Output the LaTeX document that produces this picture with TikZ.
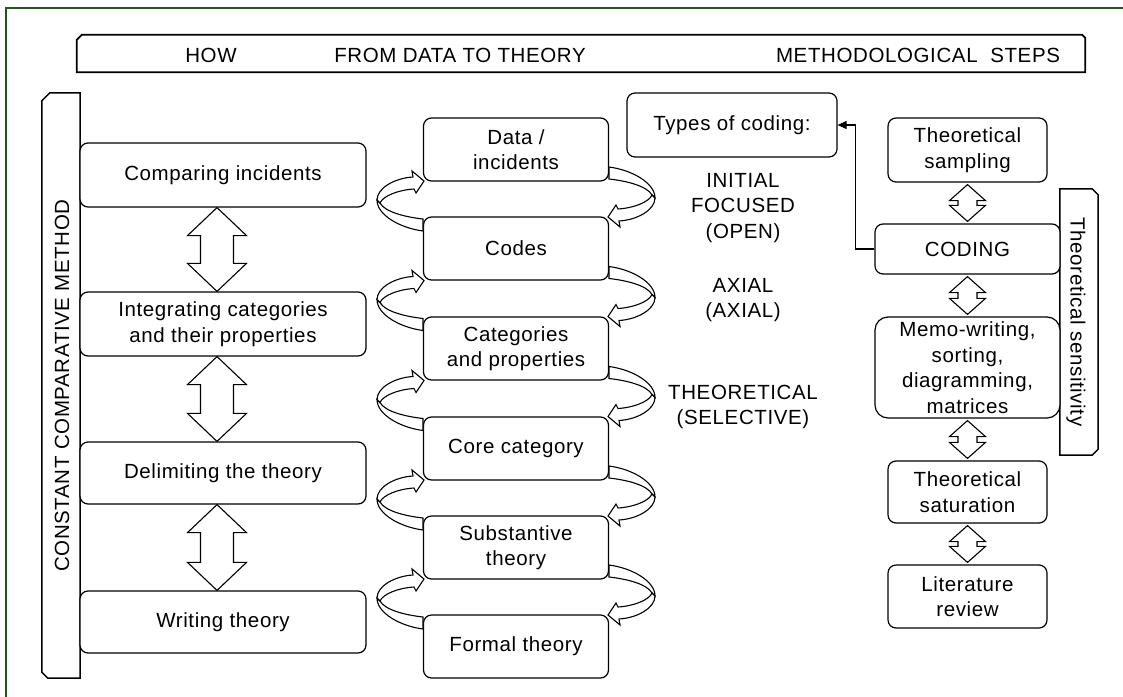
\documentclass[tikz,border=0pt]{standalone}
\usepackage{fontspec}
\setmainfont{Liberation Sans}[LetterSpace=3]
\usetikzlibrary{calc,arrows.meta}
\definecolor{framegreen}{RGB}{34,85,34}

% vertical block double arrow between two stacked nodes
% #1 upper node, #2 lower node, #3 x offset, #4 gap at the tips,
% #5 half head width, #6 half shaft width, #7 head length
\newcommand\dblblockarrow[7]{%
  \coordinate (tipT) at ($(#1.south)+(#3,#4)$);
  \coordinate (tipB) at ($(#2.north)+(#3,-#4)$);
  \draw[blockarrow] (tipT) -- ++(#5,#7) -- ++(#6-#5,0) -- ($(tipB)+(#6,-#7)$)
    -- ++(#5-#6,0) -- (tipB) -- ++(-#5,-#7) -- ++(#5-#6,0)
    -- ($(tipT)+(-#6,#7)$) -- ++(#6-#5,0) -- cycle;
}

\tikzset{
  every node/.style={font=\fontsize{20.5}{25.5}\selectfont, inner sep=0pt},
  box/.style={draw, line width=1.2pt, rounded corners=8pt, fill=white, align=center},
  blockarrow/.style={draw, line width=1.1pt, fill=white, line join=miter},
  barnode/.style={draw=none, inner sep=0pt},
  barline/.style={line width=1.5pt},
  codelabel/.style={align=center},
  link/.style={line width=1.1pt, -{Triangle[length=9pt,width=8pt]}},
  frame/.style={draw=framegreen, line width=1.5pt},
  % twisted loop arrow on the left of a gap between two boxes
  looparrow/.pic={
    \draw[blockarrow] (-139,1) .. controls (-139,16) and (-116,29) .. (-93,32)
      -- (-93,20) .. controls (-111,18) and (-131,13) .. (-136,4) -- cycle;
    \draw[blockarrow] (-139,1) .. controls (-139,-11) and (-121,-21) .. (-103,-22)
      -- (-104,-28) -- (-92,-18) -- (-100,-6) -- (-102,-10)
      .. controls (-118,-9) and (-133,-3) .. (-136,4) -- cycle;
  }
}

\begin{document}
\begin{tikzpicture}[x=1pt,y=-1pt]
\useasboundingbox (0,0) rectangle (1123,696);
\clip (0,0) rectangle (1123,696);
\draw[frame] (6,8) rectangle (1140,720);

% header band
\node[barnode, minimum width=1008pt, minimum height=37pt] (head) at (581,53.5) {};
\draw[line width=1.8pt] ([xshift=5pt]head.north west) -- ([xshift=-3pt]head.north east)
  -- ([yshift=-3pt]head.north east) -- (head.south east) -- (head.south west)
  -- ([yshift=-5pt]head.north west) -- cycle;
\node (how) at (211,55.5) {HOW};
\node (fromdata) at (460,55.5) {FROM DATA TO THEORY};
\node (steps) at (918,55.5) {METHODOLOGICAL\ \ STEPS};

% constant comparative method band
\node[barnode, minimum width=38pt, minimum height=585pt] (ccm) at (61,385.5) {};
\draw[barline] (ccm.north east) -- (ccm.south east) -- ([xshift=6pt]ccm.south west)
  -- ([yshift=6pt]ccm.south west) -- ([yshift=-8pt]ccm.north west)
  -- ([xshift=8pt]ccm.north west) -- cycle;
\node[rotate=90] (ccmtext) at (62,385.5) {CONSTANT\ COMPARATIVE\ METHOD};

% theoretical sensitivity band
\node[barnode, minimum width=38pt, minimum height=266pt] (sens) at (1079,322) {};
\draw[barline] (sens.north west) -- ([xshift=-6pt]sens.north east)
  -- ([yshift=-6pt]sens.north east) -- ([yshift=6pt]sens.south east)
  -- ([xshift=-6pt]sens.south east) -- (sens.south west) -- cycle;
\node[rotate=-90] (senstext) at (1076,322) {Theoretical sensitivity};

% left column
\node[box, minimum width=286pt, minimum height=64pt] (cmp) at (223,175) {Comparing incidents};
\node[box, minimum width=286pt, minimum height=64pt] (integ) at (223,324) {Integrating categories\\and their properties};
\node[box, minimum width=286pt, minimum height=62pt] (delim) at (223,473) {Delimiting the theory};
\node[box, minimum width=286pt, minimum height=62pt] (writing) at (223,622) {Writing theory};
\dblblockarrow{cmp}{integ}{-6}{0}{29.5}{16.5}{28}
\dblblockarrow{integ}{delim}{-6}{0}{29.5}{16.5}{28}
\dblblockarrow{delim}{writing}{-6}{0}{29.5}{16.5}{28}

% middle column
\node[box, minimum width=185pt, minimum height=63pt] (data) at (516,149.5) {Data /\\incidents};
\node[box, minimum width=185pt, minimum height=63pt] (codes) at (516,248.5) {Codes};
\node[box, minimum width=185pt, minimum height=63pt] (cats) at (516,348.5) {Categories\\and properties};
\node[box, minimum width=185pt, minimum height=63pt] (core) at (516,448.5) {Core category};
\node[box, minimum width=185pt, minimum height=63pt] (subst) at (516,547.5) {Substantive\\theory};
\node[box, minimum width=185pt, minimum height=63pt] (formal) at (516,646.5) {Formal theory};
\foreach \a/\b in {data/codes, codes/cats, cats/core, core/subst, subst/formal} {
  \pic at ($(\a)!0.5!(\b)$) {looparrow};
  \pic[rotate=180] at ($(\a)!0.5!(\b)$) {looparrow};
}

% coding types
\node[box, minimum width=210pt, minimum height=64pt] (types) at (732,125) {Types of coding:};
\node[codelabel] (initial) at (743,208) {INITIAL\\FOCUSED\\(OPEN)};
\node[codelabel] (axial) at (743,300) {AXIAL\\(AXIAL)};
\node[codelabel] (theoretical) at (743,407) {THEORETICAL\\(SELECTIVE)};

% right column
\node[box, minimum width=159pt, minimum height=64pt] (sampling) at (967.5,150) {Theoretical\\sampling};
\node[box, minimum width=185pt, minimum height=50pt] (coding) at (967.5,249) {CODING};
\node[box, rounded corners=13pt, minimum width=185pt, minimum height=101pt] (memo) at (967.5,367.5) {Memo-writing,\\sorting,\\diagramming,\\matrices};
\node[box, minimum width=159pt, minimum height=62pt] (saturation) at (967.5,492) {Theoretical\\saturation};
\node[box, minimum width=159pt, minimum height=63pt] (literature) at (967.5,596.5) {Literature\\review};
\dblblockarrow{sampling}{coding}{0}{2}{18}{9.5}{16}
\dblblockarrow{coding}{memo}{0}{2}{18}{9.5}{16}
\dblblockarrow{memo}{saturation}{0}{2}{18}{9.5}{16}
\dblblockarrow{saturation}{literature}{0}{2}{18}{9.5}{16}

\draw[link] (coding.west) -- ++(-19,0) |- (types.east);
\end{tikzpicture}
\end{document}
